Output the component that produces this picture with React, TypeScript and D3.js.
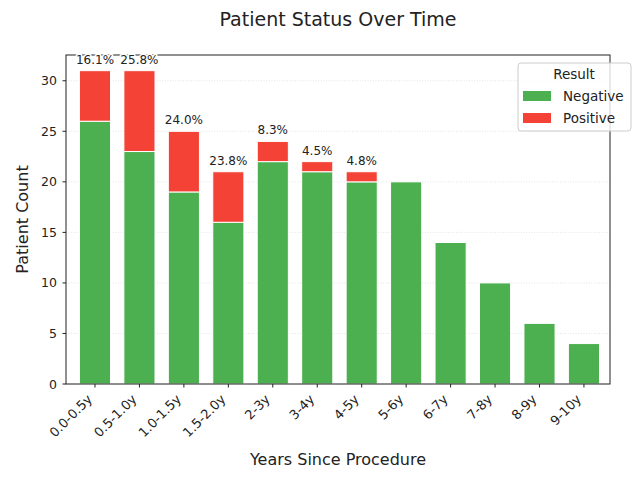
import React, { useEffect, useRef } from 'react';
import * as d3 from 'd3';

// Patient counts per follow-up interval, split by test result
const intervals = ['0.0-0.5y', '0.5-1.0y', '1.0-1.5y', '1.5-2.0y', '2-3y', '3-4y', '4-5y', '5-6y', '6-7y', '7-8y', '8-9y', '9-10y'];
const negativeCounts = [26, 23, 19, 16, 22, 21, 20, 20, 14, 10, 6, 4];
const positiveCounts = [5, 8, 6, 5, 2, 1, 1, 0, 0, 0, 0, 0];
const yTicks = [0, 5, 10, 15, 20, 25, 30];

const GREEN = '#4caf50';
const RED = '#f44336';
const FONT = 'DejaVu Sans, sans-serif';

const App = () => {
  const svgRef = useRef<SVGSVGElement>(null);

  useEffect(() => {
    const width = 640;
    const height = 480;
    const plot = { left: 66, right: 610, top: 55, bottom: 384 };

    d3.select(svgRef.current).selectAll('*').remove();
    const svg = d3.select(svgRef.current)
      .attr('width', width)
      .attr('height', height);

    const totals = negativeCounts.map((n, i) => n + positiveCounts[i]);

    const x = d3.scaleLinear()
      .domain([-0.652, intervals.length - 1 + 0.586])
      .range([plot.left, plot.right]);

    const y = d3.scaleLinear()
      .domain([0, d3.max(totals)! * 1.05])
      .range([plot.bottom, plot.top]);

    const barW = x(0.7) - x(0);

    // Dotted horizontal grid
    svg.append('g')
      .selectAll('line')
      .data(yTicks)
      .enter().append('line')
      .attr('x1', plot.left)
      .attr('x2', plot.right)
      .attr('y1', d => y(d))
      .attr('y2', d => y(d))
      .attr('stroke', '#b0b0b0')
      .attr('stroke-opacity', 0.45)
      .attr('stroke-width', 0.8)
      .attr('stroke-dasharray', '1 1.6');

    // Stacked bars: negative at the bottom, positive on top
    const bars = svg.append('g');
    bars.selectAll('.neg')
      .data(negativeCounts)
      .enter().append('rect')
      .attr('class', 'neg')
      .attr('x', (d, i) => x(i) - barW / 2)
      .attr('width', barW)
      .attr('y', d => y(d))
      .attr('height', d => y(0) - y(d))
      .attr('fill', GREEN)
      .attr('stroke', 'white')
      .attr('stroke-width', 1);

    bars.selectAll('.pos')
      .data(positiveCounts)
      .enter().append('rect')
      .filter(d => d > 0)
      .attr('class', 'pos')
      .attr('x', (d, i) => x(i) - barW / 2)
      .attr('width', barW)
      .attr('y', (d, i) => y(negativeCounts[i] + d))
      .attr('height', (d, i) => y(negativeCounts[i]) - y(negativeCounts[i] + d))
      .attr('fill', RED)
      .attr('stroke', 'white')
      .attr('stroke-width', 1);

    // Spines
    svg.append('rect')
      .attr('x', plot.left)
      .attr('y', plot.top)
      .attr('width', plot.right - plot.left)
      .attr('height', plot.bottom - plot.top)
      .attr('fill', 'none')
      .attr('stroke', '#222')
      .attr('stroke-width', 1);

    // Positive share above each bar that has positives (white halo over the spine)
    svg.append('g')
      .selectAll('text')
      .data(positiveCounts.map((p, i) => ({ p, i })).filter(d => d.p > 0))
      .enter().append('text')
      .attr('x', d => x(d.i))
      .attr('y', d => y(totals[d.i]) - 7)
      .attr('text-anchor', 'middle')
      .style('font-family', FONT)
      .style('font-size', '12px')
      .style('paint-order', 'stroke')
      .attr('stroke', 'white')
      .attr('stroke-width', 3)
      .attr('stroke-linejoin', 'round')
      .attr('fill', '#222')
      .text(d => `${((d.p / totals[d.i]) * 100).toFixed(1)}%`);

    // Y axis ticks and labels
    const yAxis = svg.append('g');
    yAxis.selectAll('line')
      .data(yTicks)
      .enter().append('line')
      .attr('x1', plot.left - 3.5)
      .attr('x2', plot.left)
      .attr('y1', d => y(d))
      .attr('y2', d => y(d))
      .attr('stroke', '#222');
    yAxis.selectAll('text')
      .data(yTicks)
      .enter().append('text')
      .attr('x', plot.left - 9)
      .attr('y', d => y(d))
      .attr('dy', '0.36em')
      .attr('text-anchor', 'end')
      .style('font-family', FONT)
      .style('font-size', '12.5px')
      .attr('fill', '#222')
      .text(d => d);

    // X axis ticks and rotated labels
    const xAxis = svg.append('g');
    xAxis.selectAll('line')
      .data(intervals)
      .enter().append('line')
      .attr('x1', (d, i) => x(i))
      .attr('x2', (d, i) => x(i))
      .attr('y1', plot.bottom)
      .attr('y2', plot.bottom + 3.5)
      .attr('stroke', '#222');
    xAxis.selectAll('text')
      .data(intervals)
      .enter().append('text')
      .attr('transform', (d, i) => `translate(${x(i) - 2},${plot.bottom + 16}) rotate(-45)`)
      .attr('text-anchor', 'end')
      .style('font-family', FONT)
      .style('font-size', '13px')
      .attr('fill', '#222')
      .text(d => d);

    // Axis labels and title
    svg.append('text')
      .attr('x', (plot.left + plot.right) / 2)
      .attr('y', 465)
      .attr('text-anchor', 'middle')
      .style('font-family', FONT)
      .style('font-size', '16px')
      .attr('fill', '#222')
      .text('Years Since Procedure');

    svg.append('text')
      .attr('transform', `translate(28,${(plot.top + plot.bottom) / 2}) rotate(-90)`)
      .attr('text-anchor', 'middle')
      .style('font-family', FONT)
      .style('font-size', '16px')
      .attr('fill', '#222')
      .text('Patient Count');

    svg.append('text')
      .attr('x', (plot.left + plot.right) / 2)
      .attr('y', 26)
      .attr('text-anchor', 'middle')
      .style('font-family', FONT)
      .style('font-size', '19px')
      .attr('fill', '#222')
      .text('Patient Status Over Time');

    // Legend
    const legend = svg.append('g').attr('transform', 'translate(518,63)');
    legend.append('rect')
      .attr('width', 113)
      .attr('height', 68)
      .attr('rx', 3)
      .attr('fill', 'white')
      .attr('fill-opacity', 0.8)
      .attr('stroke', '#cccccc')
      .attr('stroke-width', 1);
    legend.append('text')
      .attr('x', 56)
      .attr('y', 16)
      .attr('text-anchor', 'middle')
      .style('font-family', FONT)
      .style('font-size', '13.5px')
      .attr('fill', '#222')
      .text('Result');

    const entries = [
      { label: 'Negative', color: GREEN },
      { label: 'Positive', color: RED },
    ];
    const items = legend.selectAll('.legend-item')
      .data(entries)
      .enter().append('g')
      .attr('class', 'legend-item')
      .attr('transform', (d, i) => `translate(0,${28 + i * 22})`);
    items.append('rect')
      .attr('x', 5)
      .attr('width', 28)
      .attr('height', 10)
      .attr('fill', d => d.color);
    items.append('text')
      .attr('x', 45)
      .attr('y', 5)
      .attr('dy', '0.36em')
      .style('font-family', FONT)
      .style('font-size', '13.5px')
      .attr('fill', '#222')
      .text(d => d.label);
  }, []);

  return (
    <div style={{ position: 'absolute', left: 0, top: 0 }}>
      <svg ref={svgRef} style={{ display: 'block' }}></svg>
    </div>
  );
};

export default App;
